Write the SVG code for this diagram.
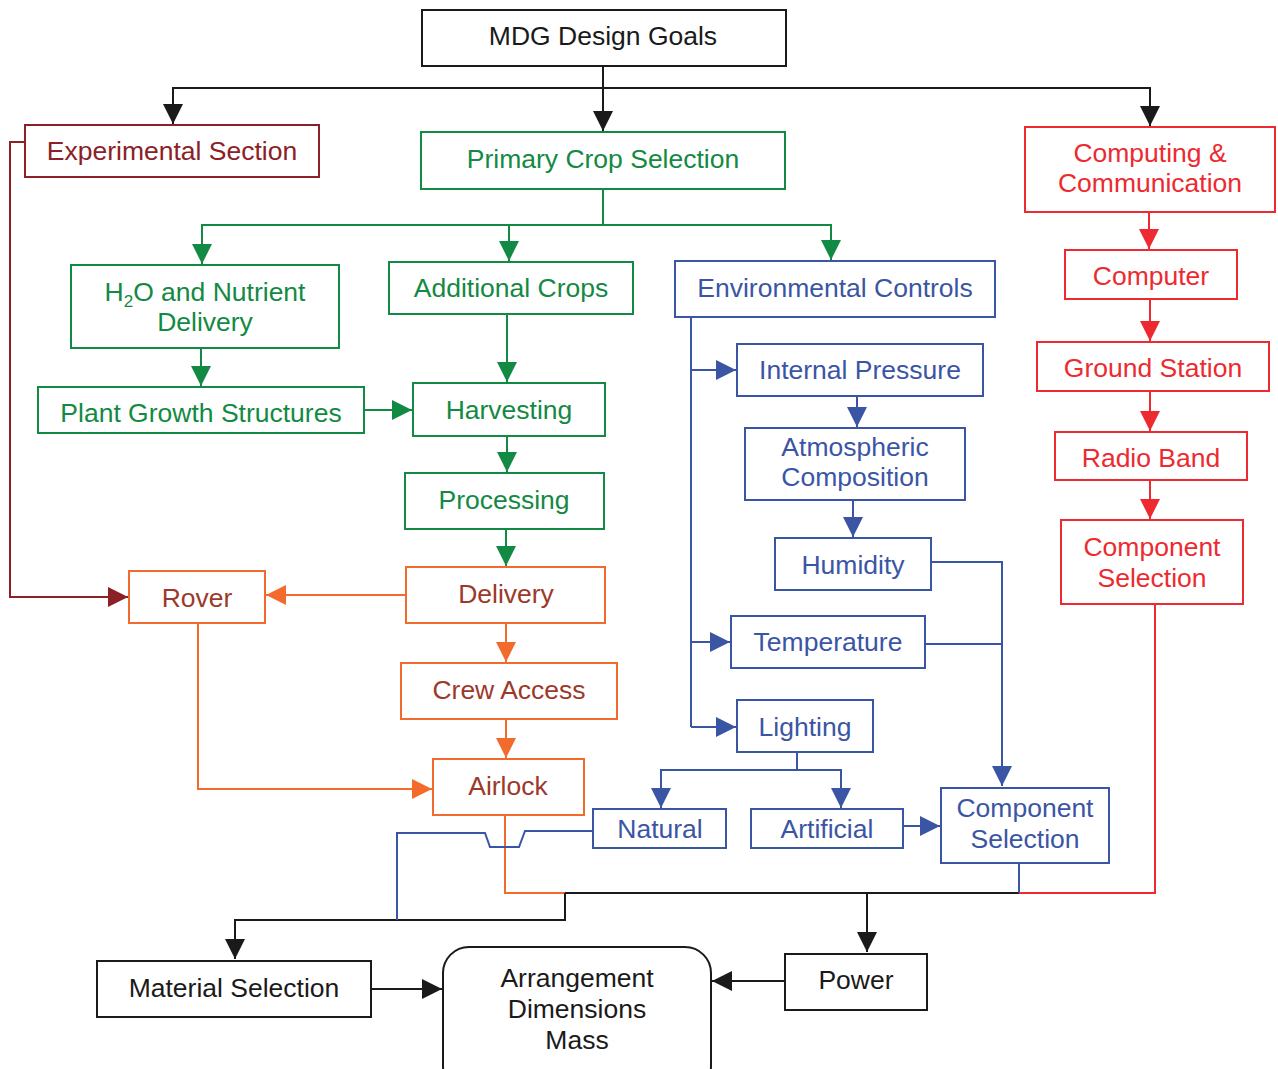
<svg xmlns="http://www.w3.org/2000/svg" width="1278" height="1069" viewBox="0 0 1278 1069">
<style>
text{font-family:"Liberation Sans",Arial,sans-serif;font-size:26.5px;text-anchor:middle}
rect{fill:#fff;stroke-width:2}
.k rect{stroke:#1a1a1a}.k text{fill:#1a1a1a}
.d rect{stroke:#8b2126}.d text{fill:#8b2126}
.g rect{stroke:#138a43}.g text{fill:#138a43}
.b rect{stroke:#3b55a5}.b text{fill:#3b55a5}
.r rect{stroke:#ec2a30}.r text{fill:#ec2a30}
.o rect{stroke:#f26b2d}.o text{fill:#9b3a2b}
#connectors path,#connectors polyline{fill:none;stroke-width:2}
.ck{stroke:#1a1a1a}.cd{stroke:#8b2126}.cg{stroke:#138a43}.cb{stroke:#3b55a5}.cr{stroke:#ec2a30}.co{stroke:#f26b2d}
</style>
<defs>
<marker id="ak" viewBox="0 0 20 20" refX="20" refY="10" markerWidth="20" markerHeight="20" markerUnits="userSpaceOnUse" orient="auto"><path d="M0,0L20,10L0,20z" fill="#1a1a1a"/></marker>
<marker id="ad" viewBox="0 0 20 20" refX="20" refY="10" markerWidth="20" markerHeight="20" markerUnits="userSpaceOnUse" orient="auto"><path d="M0,0L20,10L0,20z" fill="#8b2126"/></marker>
<marker id="ag" viewBox="0 0 20 20" refX="20" refY="10" markerWidth="20" markerHeight="20" markerUnits="userSpaceOnUse" orient="auto"><path d="M0,0L20,10L0,20z" fill="#138a43"/></marker>
<marker id="ab" viewBox="0 0 20 20" refX="20" refY="10" markerWidth="20" markerHeight="20" markerUnits="userSpaceOnUse" orient="auto"><path d="M0,0L20,10L0,20z" fill="#3b55a5"/></marker>
<marker id="ar" viewBox="0 0 20 20" refX="20" refY="10" markerWidth="20" markerHeight="20" markerUnits="userSpaceOnUse" orient="auto"><path d="M0,0L20,10L0,20z" fill="#ec2a30"/></marker>
<marker id="ao" viewBox="0 0 20 20" refX="20" refY="10" markerWidth="20" markerHeight="20" markerUnits="userSpaceOnUse" orient="auto"><path d="M0,0L20,10L0,20z" fill="#f26b2d"/></marker>
</defs>
<rect x="0" y="0" width="1278" height="1069" fill="#fff" stroke="none"/>
<g id="connectors">
<path class="ck" d="M603,66V131" marker-end="url(#ak)"/>
<path class="ck" d="M603,88H173V124" marker-end="url(#ak)"/>
<path class="ck" d="M603,88H1150V126" marker-end="url(#ak)"/>
<path class="cd" d="M25,142H10V597H128" marker-end="url(#ad)"/>
<path class="cg" d="M603,189V225H202V264" marker-end="url(#ag)"/>
<path class="cg" d="M509,225V261" marker-end="url(#ag)"/>
<path class="cg" d="M603,225H831V260" marker-end="url(#ag)"/>
<path class="cg" d="M201,348V386" marker-end="url(#ag)"/>
<path class="cg" d="M364,410H412" marker-end="url(#ag)"/>
<path class="cg" d="M507,314V382" marker-end="url(#ag)"/>
<path class="cg" d="M507,436V472" marker-end="url(#ag)"/>
<path class="cg" d="M506,529V566" marker-end="url(#ag)"/>
<path class="co" d="M406,595H266" marker-end="url(#ao)"/>
<path class="co" d="M506,623V662" marker-end="url(#ao)"/>
<path class="co" d="M506,719V758" marker-end="url(#ao)"/>
<path class="co" d="M198,623V789H432" marker-end="url(#ao)"/>
<path class="co" d="M505,815V893H565"/>
<path class="ck" d="M565,893V920H235V959" marker-end="url(#ak)"/>
<path class="ck" d="M565,893H1019"/>
<path class="ck" d="M867,893V952" marker-end="url(#ak)"/>
<path class="cr" d="M1155,604V893H1019"/>
<path class="cb" d="M1019,863V893"/>
<path class="cb" d="M593,831H525L519,847H490L485,833H397V920"/>
<path class="cb" d="M691,317V727"/>
<path class="cb" d="M691,370H736" marker-end="url(#ab)"/>
<path class="cb" d="M691,642H730" marker-end="url(#ab)"/>
<path class="cb" d="M691,727H736" marker-end="url(#ab)"/>
<path class="cb" d="M857,396V427" marker-end="url(#ab)"/>
<path class="cb" d="M853,500V537" marker-end="url(#ab)"/>
<path class="cb" d="M931,562H1002V786" marker-end="url(#ab)"/>
<path class="cb" d="M925,644H1002"/>
<path class="cb" d="M797,752V770H661V808" marker-end="url(#ab)"/>
<path class="cb" d="M797,770H841V808" marker-end="url(#ab)"/>
<path class="cb" d="M903,826H940" marker-end="url(#ab)"/>
<path class="cr" d="M1149,212V249" marker-end="url(#ar)"/>
<path class="cr" d="M1150,299V341" marker-end="url(#ar)"/>
<path class="cr" d="M1150,391V431" marker-end="url(#ar)"/>
<path class="cr" d="M1150,480V519" marker-end="url(#ar)"/>
<path class="ck" d="M371,989H442" marker-end="url(#ak)"/>
<path class="ck" d="M785,981H712" marker-end="url(#ak)"/>
</g>
<g id="mdg" class="k"><rect x="422" y="10" width="364" height="56"/><text x="603" y="45">MDG Design Goals</text></g>
<g id="experimental" class="d"><rect x="25" y="125" width="294" height="52"/><text x="172" y="160">Experimental Section</text></g>
<g id="primary" class="g"><rect x="421" y="132" width="364" height="57"/><text x="603" y="168">Primary Crop Selection</text></g>
<g id="computing" class="r"><rect x="1025" y="127" width="250" height="85"/><text x="1150" y="162">Computing &amp;</text><text x="1150" y="192">Communication</text></g>
<g id="h2o" class="g"><rect x="71" y="265" width="268" height="83"/><text x="205" y="301">H<tspan font-size="17" dy="6">2</tspan><tspan dy="-6">O and Nutrient</tspan></text><text x="205" y="331">Delivery</text></g>
<g id="additional" class="g"><rect x="389" y="262" width="244" height="52"/><text x="511" y="297">Additional Crops</text></g>
<g id="environmental" class="b"><rect x="675" y="261" width="320" height="56"/><text x="835" y="297">Environmental Controls</text></g>
<g id="computer" class="r"><rect x="1065" y="250" width="172" height="49"/><text x="1151" y="285">Computer</text></g>
<g id="ground" class="r"><rect x="1037" y="342" width="232" height="49"/><text x="1153" y="377">Ground Station</text></g>
<g id="pressure" class="b"><rect x="737" y="344" width="246" height="52"/><text x="860" y="379">Internal Pressure</text></g>
<g id="plant" class="g"><rect x="38" y="387" width="326" height="46"/><text x="201" y="422">Plant Growth Structures</text></g>
<g id="harvesting" class="g"><rect x="413" y="383" width="192" height="53"/><text x="509" y="419">Harvesting</text></g>
<g id="atmospheric" class="b"><rect x="745" y="428" width="220" height="72"/><text x="855" y="456">Atmospheric</text><text x="855" y="486">Composition</text></g>
<g id="radio" class="r"><rect x="1055" y="432" width="192" height="48"/><text x="1151" y="467">Radio Band</text></g>
<g id="processing" class="g"><rect x="405" y="473" width="199" height="56"/><text x="504" y="509">Processing</text></g>
<g id="component-red" class="r"><rect x="1061" y="520" width="182" height="84"/><text x="1152" y="556">Component</text><text x="1152" y="587">Selection</text></g>
<g id="humidity" class="b"><rect x="775" y="538" width="156" height="52"/><text x="853" y="574">Humidity</text></g>
<g id="delivery" class="o"><rect x="406" y="567" width="199" height="56"/><text x="506" y="603">Delivery</text></g>
<g id="rover" class="o"><rect x="129" y="571" width="136" height="52"/><text x="197" y="607">Rover</text></g>
<g id="temperature" class="b"><rect x="731" y="616" width="194" height="52"/><text x="828" y="651">Temperature</text></g>
<g id="crew" class="o"><rect x="401" y="663" width="216" height="56"/><text x="509" y="699">Crew Access</text></g>
<g id="lighting" class="b"><rect x="737" y="700" width="136" height="52"/><text x="805" y="736">Lighting</text></g>
<g id="airlock" class="o"><rect x="433" y="759" width="151" height="56"/><text x="508" y="795">Airlock</text></g>
<g id="component-blue" class="b"><rect x="941" y="788" width="168" height="75"/><text x="1025" y="817">Component</text><text x="1025" y="848">Selection</text></g>
<g id="natural" class="b"><rect x="593" y="809" width="133" height="39"/><text x="660" y="838">Natural</text></g>
<g id="artificial" class="b"><rect x="751" y="809" width="152" height="39"/><text x="827" y="838">Artificial</text></g>
<g id="material" class="k"><rect x="97" y="961" width="274" height="56"/><text x="234" y="997">Material Selection</text></g>
<g id="arrangement" class="k"><rect x="443" y="947" width="268" height="145" rx="26"/><text x="577" y="987">Arrangement</text><text x="577" y="1018">Dimensions</text><text x="577" y="1049">Mass</text></g>
<g id="power" class="k"><rect x="785" y="954" width="142" height="56"/><text x="856" y="989">Power</text></g>
</svg>
